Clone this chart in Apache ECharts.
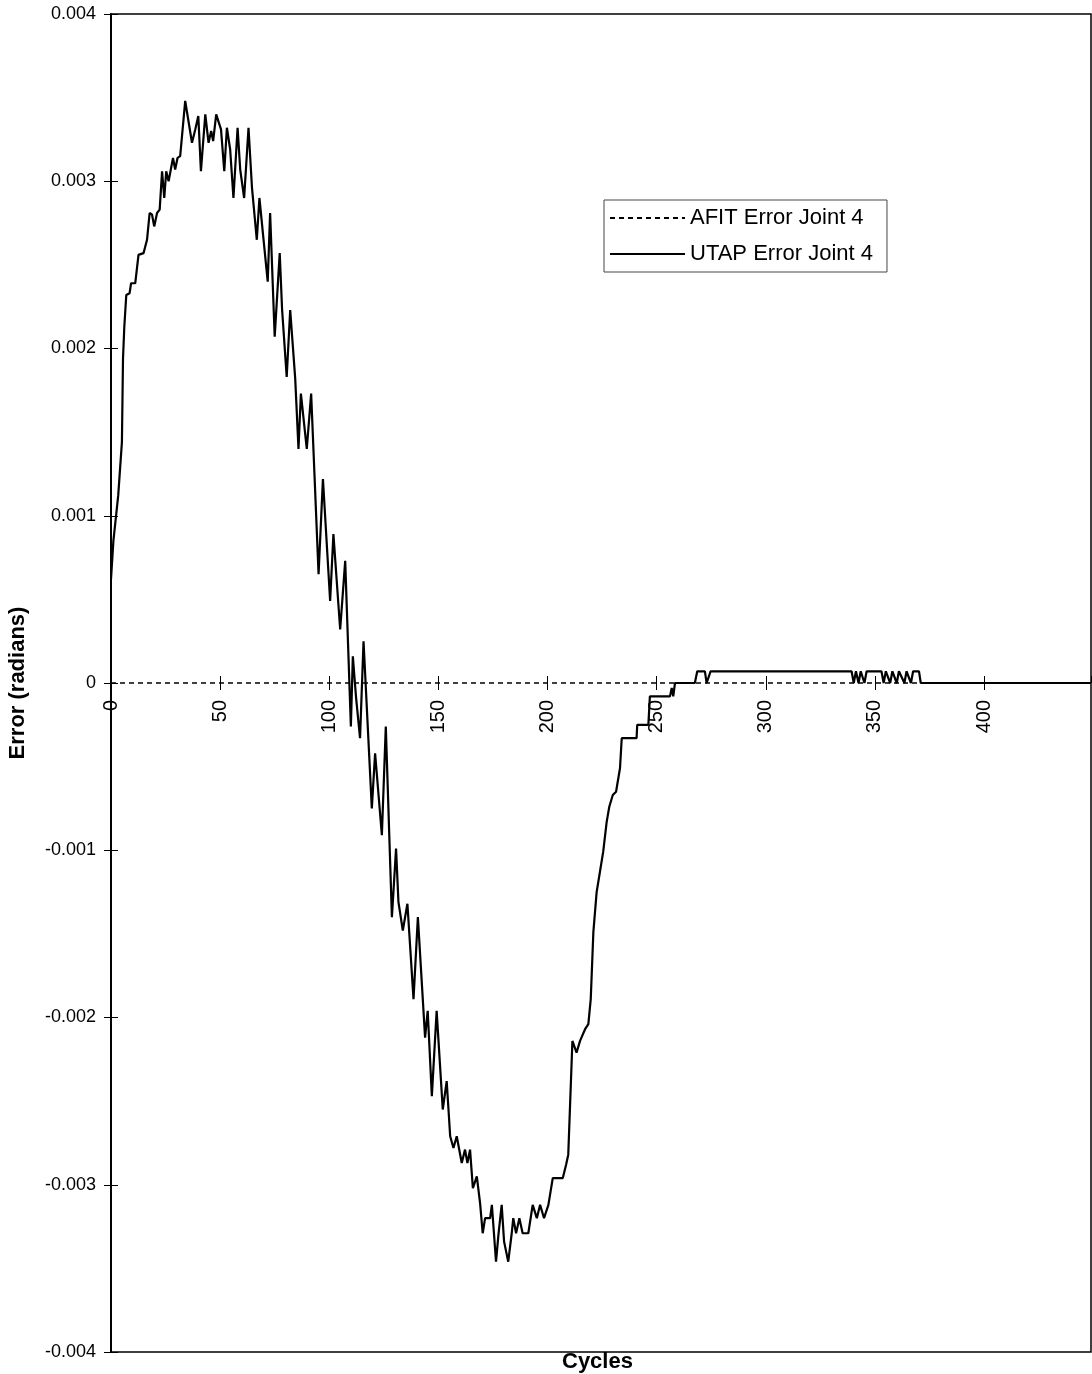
<!DOCTYPE html>
<html>
<head>
<meta charset="utf-8">
<script src="https://cdn.jsdelivr.net/npm/echarts@6/dist/echarts.min.js"></script>
<style>
html,body{margin:0;padding:0;background:#fff;}
#chart{width:1092px;height:1374px;}
</style>
</head>
<body>
<div id="chart"></div>
<script>
// ---- data ----
var seriesNames = ['AFIT Error Joint 4', 'UTAP Error Joint 4'];
var afitCycles = [0, 449];
var afitValues = [0, 0];
var utapCycles = [
  0, 1.1, 3.3, 5.0, 5.5, 6.1, 7.0, 8.5, 9.2, 11.1,
  12.6, 14.9, 16.5, 17.7, 18.8, 19.8, 21.1, 22.3, 23.4, 24.4,
  25.3, 26.4, 28.4, 29.4, 30.5, 31.7, 34.0, 37.1, 38.6, 40.0,
  41.2, 43.2, 44.7, 45.9, 46.8, 48.2, 50.4, 51.9, 53.1, 54.6,
  56.1, 58.0, 59.2, 61.0, 63.0, 64.6, 66.8, 68.0, 69.9, 71.8,
  72.9, 75.0, 77.3, 78.4, 80.5, 82.1, 84.4, 85.9, 87.0, 89.7,
  91.7, 95.1, 97.1, 100.4, 101.9, 105.0, 107.3, 109.9, 110.8, 112.3,
  114.1, 115.7, 119.5, 121.0, 124.1, 125.9, 128.7, 130.6, 131.7, 133.7,
  135.8, 138.6, 140.6, 143.9, 145.1, 147.0, 149.2, 152.0, 153.8, 155.4,
  156.9, 158.4, 160.7, 162.2, 163.3, 164.5, 165.8, 167.6, 169.1, 170.3,
  171.4, 173.7, 174.5, 176.4, 177.5, 179.0, 180.1, 182.0, 183.6, 184.3,
  185.6, 187.1, 188.6, 191.2, 193.2, 195.1, 196.6, 198.4, 200.4, 202.4,
  207.0, 208.5, 209.5, 211.4, 213.3, 214.9, 217.2, 218.7, 219.8, 221.0,
  222.5, 224.0, 225.5, 227.1, 228.3, 229.9, 231.4, 233.2, 234.0, 240.8,
  241.1, 246.2, 246.9, 256.1, 256.9, 257.6, 258.4, 267.5, 268.6, 272.1,
  272.9, 274.7, 339.3, 340.3, 341.3, 342.5, 343.5, 345.2, 346.2, 353,
  354, 355, 357, 358, 360, 361, 363.5, 364.5, 366.5, 367.5,
  370.2, 371, 449
];
var utapValues = [
  0.00062, 0.00085, 0.00112, 0.00144, 0.00194, 0.00213, 0.00232, 0.00233, 0.00239, 0.00239,
  0.00256, 0.00257, 0.00265, 0.00281, 0.00280, 0.00273, 0.00281, 0.00283, 0.00306, 0.00290,
  0.00306, 0.00300, 0.00314, 0.00307, 0.00314, 0.00315, 0.00348, 0.00323, 0.00331, 0.00339,
  0.00306, 0.00340, 0.00323, 0.00330, 0.00324, 0.00340, 0.00331, 0.00306, 0.00332, 0.00319,
  0.00290, 0.00332, 0.00307, 0.00290, 0.00332, 0.00296, 0.00265, 0.00290, 0.00265, 0.00240,
  0.00281, 0.00207, 0.00257, 0.00223, 0.00183, 0.00223, 0.00182, 0.00140, 0.00173, 0.00140,
  0.00173, 0.00065, 0.00122, 0.00049, 0.00089, 0.00032, 0.00073, -0.00026, 0.00016, -0.00009,
  -0.00033, 0.00025, -0.00075, -0.00042, -0.00091, -0.00026, -0.00140, -0.00099, -0.00131, -0.00148,
  -0.00132, -0.00189, -0.00140, -0.00212, -0.00196, -0.00247, -0.00196, -0.00255, -0.00238, -0.00271,
  -0.00278, -0.00271, -0.00287, -0.00279, -0.00287, -0.00279, -0.00302, -0.00295, -0.00311, -0.00329,
  -0.00320, -0.00320, -0.00312, -0.00346, -0.00330, -0.00312, -0.00334, -0.00346, -0.00329, -0.00320,
  -0.00329, -0.00320, -0.00329, -0.00329, -0.00312, -0.00320, -0.00312, -0.00320, -0.00312, -0.00296,
  -0.00296, -0.00288, -0.00282, -0.00214, -0.00221, -0.00214, -0.00207, -0.00204, -0.00189, -0.00149,
  -0.00125, -0.00113, -0.00101, -0.00083, -0.00074, -0.00067, -0.00065, -0.00051, -0.00033, -0.00033,
  -0.00025, -0.00025, -0.00008, -0.00008, -0.00003, -0.00008, 0, 0, 0.00007, 0.00007,
  0, 0.00007, 0.00007, 0, 0.00007, 0, 0.00007, 0, 0.00007, 0.00007,
  0, 0.00007, 0, 0.00007, 0, 0.00007, 0, 0.00007, 0, 0.00007,
  0.00007, 0, 0
];
var xMin = 0, xMax = 449, xStep = 50;
var yMin = -0.004, yMax = 0.004, yStep = 0.001;
var xTitle = 'Cycles';
var yTitle = 'Error (radians)';

function zip(a, b) { return a.map(function (v, i) { return [v, b[i]]; }); }

// ---- layout ----
var W = 1092, H = 1374;
var G = { left: 111, right: 1, top: 14, bottom: 22 };
var gridW = W - G.left - G.right;
var gridH = H - G.top - G.bottom;
// pixel offset that moves an edge axis onto the value 0 of the other axis
var xZeroShift = -gridH * (yMax / (yMax - yMin));
var yZeroShift = -gridW;

var FONT = '"Liberation Sans", Arial, sans-serif';
var chart = echarts.init(document.getElementById('chart'), null, { renderer: 'canvas' });

function yFmt(v) {
  if (Math.abs(v) < 1e-12) return '0';
  return v.toFixed(3);
}
var tickStyle = { color: '#000', width: 1 };

chart.setOption({
  backgroundColor: '#ffffff',
  animation: false,
  grid: {
    left: G.left, right: G.right, top: G.top, bottom: G.bottom,
    outerBoundsMode: 'none', containLabel: false,
    show: true, borderColor: '#000', borderWidth: 1.5, backgroundColor: 'transparent'
  },
  legend: {
    data: seriesNames,
    orient: 'vertical',
    left: 604, top: 200,
    itemWidth: 75, itemHeight: 20, itemGap: 14,
    padding: [7, 14, 7, 5],
    borderColor: '#444', borderWidth: 1,
    backgroundColor: '#fff',
    itemStyle: { color: 'rgba(0,0,0,0)', borderColor: 'rgba(0,0,0,0)', borderWidth: 0 },
    textStyle: { fontFamily: FONT, fontSize: 22, color: '#000' }
  },
  xAxis: [{
    type: 'value', position: 'bottom', offset: xZeroShift, min: xMin, max: xMax, interval: xStep,
    axisLine: { show: false, onZero: false },
    axisTick: { show: true, length: 7, lineStyle: tickStyle },
    axisLabel: { rotate: 90, margin: 17, fontFamily: FONT, fontSize: 20, color: '#000', showMaxLabel: false },
    splitLine: { show: false }
  }, {
    type: 'value', position: 'top', offset: xZeroShift, min: xMin, max: xMax, interval: xStep,
    axisLine: { show: false, onZero: false },
    axisTick: { show: true, length: 7, lineStyle: tickStyle },
    axisLabel: { show: false },
    splitLine: { show: false }
  }],
  yAxis: [{
    type: 'value', position: 'left', min: yMin, max: yMax, interval: yStep,
    axisLine: { show: true, onZero: false, lineStyle: { color: '#000', width: 2 } },
    axisTick: { show: true, length: 7, lineStyle: tickStyle },
    axisLabel: { margin: 15, fontFamily: FONT, fontSize: 18, color: '#000', formatter: yFmt },
    splitLine: { show: false },
    name: yTitle, nameLocation: 'middle', nameRotate: 90, nameGap: 82,
    nameTextStyle: { fontFamily: FONT, fontSize: 22, fontWeight: 'bold', color: '#000' }
  }, {
    type: 'value', position: 'right', offset: yZeroShift, min: yMin, max: yMax, interval: yStep,
    axisLine: { show: false, onZero: false },
    axisTick: { show: true, length: 7, lineStyle: tickStyle },
    axisLabel: { show: false },
    splitLine: { show: false }
  }],
  graphic: [{
    type: 'text', left: 562, top: 1351,
    style: { text: xTitle, font: 'bold 22px ' + FONT, fill: '#000' }
  }],
  series: [{
    name: seriesNames[0], type: 'line', data: zip(afitCycles, afitValues),
    symbol: 'none', z: 2,
    lineStyle: { color: '#000', width: 1.5, type: [5, 4] },
    itemStyle: { color: '#000' }
  }, {
    name: seriesNames[1], type: 'line', data: zip(utapCycles, utapValues),
    symbol: 'none', z: 3,
    lineStyle: { color: '#000', width: 2.2 },
    itemStyle: { color: '#000' }
  }]
});
</script>
</body>
</html>
